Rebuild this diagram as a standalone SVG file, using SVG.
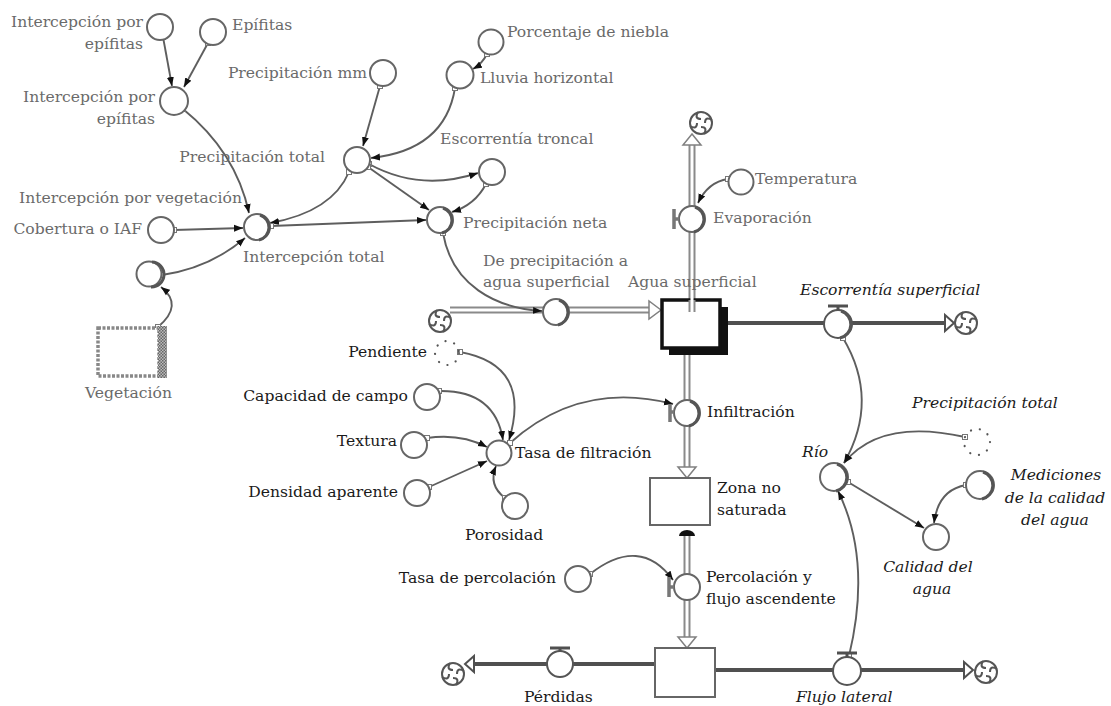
<svg xmlns="http://www.w3.org/2000/svg" width="1111" height="706" viewBox="0 0 1111 706">
<style>
text{font-family:"DejaVu Serif","Liberation Serif",serif;font-size:15.6px}
.tg{fill:#6a6a6a}
.tb{fill:#1a1a1a}
.ti{font-style:italic;fill:#1a1a1a}
.c{fill:#fff;stroke:#666;stroke-width:2}
.cd{fill:#fff;stroke:#555;stroke-width:2}
.gh{fill:none;stroke:#555;stroke-width:2.2;stroke-linecap:round;stroke-dasharray:0.1 9}
.cr{fill:none;stroke:#555;stroke-width:3}
.lk{fill:none;stroke:#5e5e5e;stroke-width:1.9;marker-end:url(#ah);marker-start:url(#sq)}
.po{fill:none;stroke:#8a8a8a;stroke-width:7}
.pi{fill:none;stroke:#fff;stroke-width:3}
.sp{fill:none;stroke:#505050;stroke-width:4}
.ah{fill:#fff;stroke:#808080;stroke-width:1.5}
.ahs{fill:#fff;stroke:#505050;stroke-width:2}
.hd{fill:none;stroke:#777;stroke-width:3.5}
.tbar{fill:none;stroke:#505050;stroke-width:3}
.stk{fill:#fff;stroke:#666;stroke-width:2}
</style>
<defs>
<marker id="ah" markerWidth="10" markerHeight="8" refX="9" refY="4" orient="auto" markerUnits="userSpaceOnUse"><path d="M0,0.5 L9,4 L0,7.5 z" fill="#111"/></marker>
<marker id="sq" markerWidth="6" markerHeight="6" refX="3" refY="3" orient="0" markerUnits="userSpaceOnUse"><rect x="0.5" y="0.5" width="5" height="5" fill="#fff" stroke="#777" stroke-width="1"/></marker>
<pattern id="chk" width="3" height="3" patternUnits="userSpaceOnUse"><rect width="3" height="3" fill="#bbb"/><rect width="1.5" height="1.5" fill="#666"/><rect x="1.5" y="1.5" width="1.5" height="1.5" fill="#666"/></pattern>
<g id="cloud"><circle r="11" fill="#fff" stroke="#555" stroke-width="2"/><path d="M-3,-11 Q-7,-4 0,-4 M11,-3 Q4,-7 4,0 M3,11 Q7,4 0,4 M-11,3 Q-4,7 -4,0" fill="none" stroke="#555" stroke-width="2"/></g>
</defs>
<rect width="1111" height="706" fill="#fff"/>

<!-- pipes (flows) -->
<g id="pipes">
  <path class="po" d="M692,300 V145"/><path class="pi" d="M692,300 V145"/>
  <polygon class="ah" points="692,134 683,145 701,145"/>
  <path class="po" d="M450,310 H649"/><path class="pi" d="M450,310 H649"/>
  <polygon class="ah" points="661,310 649,301 649,319"/>
  <path class="po" d="M687,350 V467"/><path class="pi" d="M687,350 V467"/>
  <polygon class="ah" points="687,478 678,467 696,467"/>
  <path class="po" d="M687,534 V637"/><path class="pi" d="M687,534 V637"/>
  <polygon class="ah" points="687,648 678,637 696,637"/>
  <path d="M679,536 A8,6 0 0 1 695,536 Z" fill="#111"/>
  <path class="sp" d="M728,323 H945"/>
  <polygon class="ahs" points="954,323 945,315 945,331"/>
  <path class="sp" d="M655,664 H474"/>
  <polygon class="ahs" points="465,664 474,656 474,672"/>
  <path class="sp" d="M715,670 H964"/>
  <polygon class="ahs" points="973,670 964,662 964,678"/>
  <use href="#cloud" x="701" y="123"/>
  <use href="#cloud" x="440" y="321"/>
  <use href="#cloud" x="966" y="323"/>
  <use href="#cloud" x="453" y="674"/>
  <use href="#cloud" x="986" y="672"/>
</g>

<!-- connectors -->
<g id="connectors">
  <path class="lk" d="M163,37 L172,86"/>
  <path class="lk" d="M208,43 L184,87"/>
  <path class="lk" d="M183,109 Q236,152 249,213"/>
  <path class="lk" d="M349,172 Q332,212 270,223"/>
  <path class="lk" d="M174,230 L243,228"/>
  <path class="lk" d="M162,275 Q210,268 245,238"/>
  <path class="lk" d="M158,327 Q184,305 161,287"/>
  <path class="lk" d="M271,226 L426,220"/>
  <path class="lk" d="M380,86 L363,146"/>
  <path class="lk" d="M455,88 Q445,150 371,158"/>
  <path class="lk" d="M487,54 Q482,64 473,69"/>
  <path class="lk" d="M369,164 Q420,192 478,173"/>
  <path class="lk" d="M368,167 L429,210"/>
  <path class="lk" d="M486,184 Q475,205 452,212"/>
  <path class="lk" d="M443,233 C452,285 495,308 542,311"/>
  <path class="lk" d="M728,179 Q708,182 698,203"/>
  <path class="lk" d="M843,338 Q880,400 844,463"/>
  <path class="lk" d="M849,656 Q872,560 838,491"/>
  <path class="lk" d="M965,437 Q880,418 844,463"/>
  <path class="lk" d="M848,482 L924,528"/>
  <path class="lk" d="M966,485 Q938,490 934,523"/>
  <path class="lk" d="M460,352 Q532,365 509,440"/>
  <path class="lk" d="M439,391 Q495,390 503,440"/>
  <path class="lk" d="M427,438 Q460,433 487,447"/>
  <path class="lk" d="M429,487 L487,461"/>
  <path class="lk" d="M505,498 Q488,485 496,466"/>
  <path class="lk" d="M510,443 Q580,380 673,404"/>
  <path class="lk" d="M590,574 Q640,535 673,580"/>
</g>

<!-- nodes -->
<g id="n_iep1"><circle class="c" cx="160" cy="27" r="13"/><text class="tg" x="143" y="27" text-anchor="end">Intercepción por</text><text class="tg" x="143" y="49" text-anchor="end">epífitas</text></g>
<g id="n_epif"><circle class="c" cx="213" cy="32" r="13"/><text class="tg" x="232" y="30">Epífitas</text></g>
<g id="n_iep2"><circle class="c" cx="174" cy="101" r="14"/><text class="tg" x="155" y="102" text-anchor="end">Intercepción por</text><text class="tg" x="155" y="124" text-anchor="end">epífitas</text></g>
<g id="n_pmm"><circle class="c" cx="383" cy="73" r="13"/><text class="tg" x="367" y="78" text-anchor="end">Precipitación mm</text></g>
<g id="n_pniebla"><circle class="c" cx="491" cy="42" r="12.5"/><text class="tg" x="507" y="37">Porcentaje de niebla</text></g>
<g id="n_lluvia"><circle class="c" cx="460" cy="75" r="13.5"/><text class="tg" x="480" y="83">Lluvia horizontal</text></g>
<g id="n_ptotal"><circle class="c" cx="357" cy="160" r="13"/><text class="tg" x="325" y="162" text-anchor="end">Precipitación total</text></g>
<g id="n_etroncal"><circle class="c" cx="492" cy="172" r="13"/><text class="tg" x="440" y="144">Escorrentía troncal</text></g>
<g id="n_pneta"><circle class="c" cx="440" cy="220" r="13"/><path class="cr" d="M443,208 A13,13 0 0 1 442,233"/><text class="tg" x="463" y="228">Precipitación neta</text></g>
<g id="n_itotal"><circle class="c" cx="257" cy="227" r="13"/><path class="cr" d="M260,215 A13,13 0 0 1 259,240"/><text class="tg" x="243" y="262">Intercepción total</text></g>
<g id="n_cob"><circle class="c" cx="161" cy="230" r="13"/><text class="tg" x="142" y="234" text-anchor="end">Cobertura o IAF</text></g>
<g id="n_ivege"><circle class="c" cx="149" cy="274" r="12.5"/><path class="cr" d="M152,262 A12.5,12.5 0 0 1 151,287"/><text class="tg" x="242" y="203" text-anchor="end">Intercepción por vegetación</text></g>
<g id="n_veg"><rect x="98" y="328" width="61" height="48" fill="#fff" stroke="#888" stroke-width="3.5" stroke-dasharray="3 1.5"/><rect x="158" y="326" width="9" height="52" fill="url(#chk)"/><text class="tg" x="85" y="398">Vegetación</text></g>
<g id="n_temp"><circle class="c" cx="741" cy="182" r="12.5"/><text class="tg" x="755" y="184">Temperatura</text></g>
<g id="n_evap"><circle class="c" cx="692" cy="219" r="13"/><path class="cr" d="M695,207 A13,13 0 0 1 694,232"/><path class="hd" d="M674,209 V229 M674,219 H679"/><text class="tg" x="713" y="223">Evaporación</text></g>
<g id="n_asup"><rect x="669" y="307" width="59" height="48" fill="#111"/><rect x="662" y="300" width="58" height="48" fill="#fff" stroke="#111" stroke-width="3.5"/><path class="po" d="M692,300 V312"/><path class="pi" d="M692,298 V312"/><text class="tg" x="628" y="287">Agua superficial</text></g>
<g id="n_dprec"><circle class="c" cx="556" cy="312" r="13"/><path class="cr" d="M559,300 A13,13 0 0 1 558,325"/><text class="tg" x="483" y="266">De precipitación a</text><text class="tg" x="483" y="287">agua superficial</text></g>
<g id="n_esup"><circle class="cd" cx="838" cy="324" r="14"/><path class="cr" d="M841,311 A14,14 0 0 1 840,338"/><path class="tbar" d="M838,310 V306 M828,306 H848"/><text class="ti" x="800" y="295">Escorrentía superficial</text></g>
<g id="n_inf"><circle class="c" cx="687" cy="413" r="13"/><path class="cr" d="M690,401 A13,13 0 0 1 689,426"/><path class="hd" d="M670,404 V422 M670,412 H674"/><text class="tb" x="707" y="417">Infiltración</text></g>
<g id="n_zns"><rect class="stk" x="650" y="478" width="60" height="47"/><text class="tb" x="717" y="493">Zona no</text><text class="tb" x="717" y="515">saturada</text></g>
<g id="n_perc"><circle class="c" cx="687" cy="587" r="13"/><path class="hd" d="M669,577 V597 M669,587 H674"/><text class="tb" x="706" y="582">Percolación y</text><text class="tb" x="706" y="604">flujo ascendente</text></g>
<g id="n_tperc"><circle class="c" cx="578" cy="579" r="13"/><text class="tb" x="556" y="583" text-anchor="end">Tasa de percolación</text></g>
<g id="n_lstock"><rect class="stk" x="655" y="648" width="60" height="49"/></g>
<g id="n_perd"><circle class="cd" cx="560" cy="664" r="13"/><path class="tbar" d="M560,651 V648 M550,648 H570"/><text class="tb" x="524" y="702">Pérdidas</text></g>
<g id="n_flat"><circle class="cd" cx="847" cy="671" r="14"/><path class="tbar" d="M847,657 V653 M837,653 H857"/><text class="ti" x="796" y="702">Flujo lateral</text></g>
<g id="n_rio"><circle class="c" cx="834" cy="477" r="14"/><path class="cr" d="M837,464 A14,14 0 0 1 836,491"/><text class="ti" x="802" y="457">Río</text></g>
<g id="n_ptghost"><circle class="gh" cx="977" cy="442" r="13"/><text class="ti" x="912" y="408">Precipitación total</text></g>
<g id="n_med"><circle class="c" cx="980" cy="485" r="14"/><path class="cr" d="M983,472 A14,14 0 0 1 982,499"/><text class="ti" x="1056" y="480" text-anchor="middle">Mediciones</text><text class="ti" x="1055" y="503" text-anchor="middle">de la calidad</text><text class="ti" x="1055" y="525" text-anchor="middle">del agua</text></g>
<g id="n_cal"><circle class="c" cx="936" cy="537" r="13"/><text class="ti" x="928" y="572" text-anchor="middle">Calidad del</text><text class="ti" x="932" y="594" text-anchor="middle">agua</text></g>
<g id="n_tfil"><circle class="c" cx="499" cy="453" r="12.5"/><text class="tb" x="515" y="458">Tasa de filtración</text></g>
<g id="n_pend"><circle class="gh" cx="447" cy="353" r="12"/><text class="tb" x="427" y="357" text-anchor="end">Pendiente</text></g>
<g id="n_cap"><circle class="c" cx="427" cy="397" r="13"/><text class="tb" x="408" y="401" text-anchor="end">Capacidad de campo</text></g>
<g id="n_tex"><circle class="c" cx="414" cy="445" r="13"/><text class="tb" x="397" y="446" text-anchor="end">Textura</text></g>
<g id="n_den"><circle class="c" cx="417" cy="493" r="13"/><text class="tb" x="398" y="497" text-anchor="end">Densidad aparente</text></g>
<g id="n_por"><circle class="c" cx="515" cy="506" r="13"/><text class="tb" x="465" y="540">Porosidad</text></g>
</svg>
